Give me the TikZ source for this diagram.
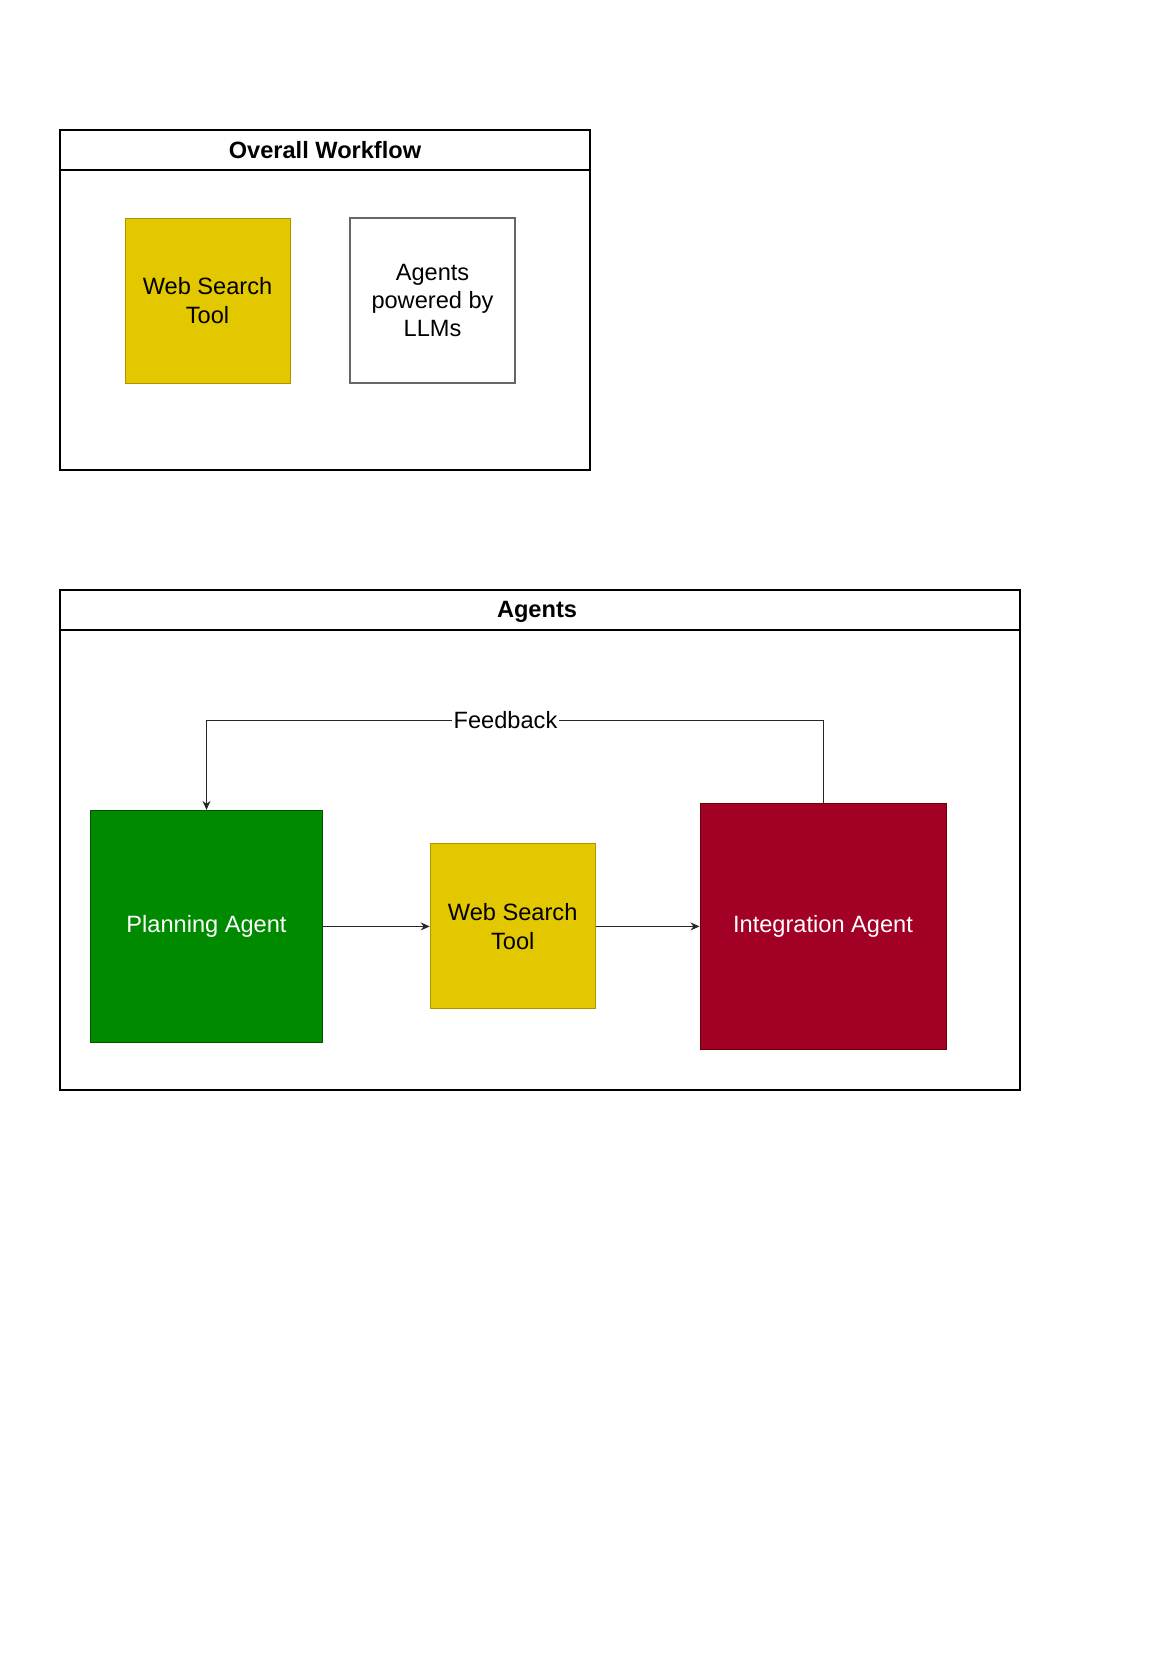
\documentclass[tikz,border=0pt]{standalone}
\usepackage{fontspec}
\setmainfont{Liberation Sans}
\usetikzlibrary{arrows.meta}
\definecolor{ylw}{HTML}{E3C800}
\definecolor{ylwline}{HTML}{B09500}
\definecolor{grn}{HTML}{008A00}
\definecolor{grnline}{HTML}{005700}
\definecolor{rd}{HTML}{A20025}
\definecolor{rdline}{HTML}{6F0000}
\definecolor{greyline}{HTML}{666666}
\tikzset{
  txt/.style={font=\fontsize{11.8}{14.2}\selectfont, align=center, inner sep=0pt},
  container/.style={draw=black, line width=0.6pt, rectangle, inner sep=0pt},
  ttl/.style={txt, font=\fontsize{11.8}{14.2}\selectfont\bfseries},
  yellowbox/.style={txt, draw=ylwline, fill=ylw, line width=0.5pt, minimum width=82.5pt, minimum height=82.5pt, text=black},
  whitebox/.style={txt, draw=greyline, fill=white, line width=0.6pt, minimum width=82.5pt, minimum height=82.5pt},
  greenbox/.style={txt, draw=grnline, fill=grn, line width=0.5pt, minimum width=116pt, minimum height=116pt, text=white},
  redbox/.style={txt, draw=rdline, fill=rd, line width=0.5pt, minimum width=123pt, minimum height=123pt, text=white},
  arr/.style={draw=black!85, line width=0.5pt, -{Stealth[length=4.5pt,width=4pt]}},
  lbl/.style={txt, fill=white, inner sep=1pt}
}
\begin{document}
\begin{tikzpicture}[x=0.5pt,y=-0.5pt]
\useasboundingbox (0,0) rectangle (1169,1654);
% Overall Workflow container
\node[container, minimum width=265pt, minimum height=170pt] (ow) at (325,300) {};
\coordinate (owh) at (0,170);
\draw[line width=0.6pt] (ow.west |- owh) -- (ow.east |- owh);
\node[ttl] (owt) at (325,150) {Overall Workflow};
\node[yellowbox] (wst1) at (207.5,300.5) {Web Search\\Tool};
\node[whitebox] (llm) at (432.5,300.5) {Agents\\powered by\\LLMs};
% Agents container
\node[container, minimum width=480pt, minimum height=250pt] (ag) at (540,840) {};
\coordinate (agh) at (0,630);
\draw[line width=0.6pt] (ag.west |- agh) -- (ag.east |- agh);
\node[ttl] (agt) at (537,612) {Agents};
\node[greenbox] (pa) at (206.5,926.4) {Planning Agent};
\node[yellowbox] (wst2) at (512.7,926.4) {Web Search\\Tool};
\node[redbox] (ia) at (823,926.4) {Integration Agent};
\draw[arr] (pa.east) -- (wst2.west);
\draw[arr] (wst2.east) -- (ia.west);
\coordinate (fby) at (0,720);
\draw[arr] (ia.north) -- (ia.north |- fby) -- node[lbl, pos=0.515] {Feedback} (pa.north |- fby) -- (pa.north);
\end{tikzpicture}
\end{document}
